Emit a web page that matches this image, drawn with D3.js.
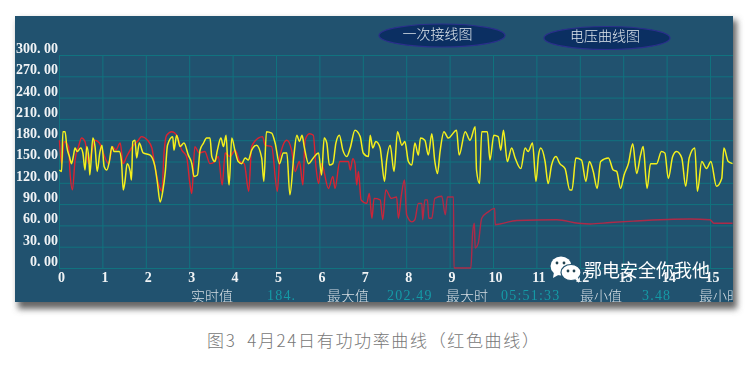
<!DOCTYPE html>
<html>
<head>
<meta charset="utf-8">
<script src="https://cdn.jsdelivr.net/npm/d3@7"></script>
<style>
html, body { margin: 0; padding: 0; background: #fff; overflow: hidden; }
svg { display: block; }
.soft { filter: blur(0.45px); }
</style>
</head>
<body>
<div id="container"></div>
<script>
// values
var valueTicks = [0, 30, 60, 90, 120, 150, 180, 210, 240, 270, 300];
var hourTicks = [0, 1, 2, 3, 4, 5, 6, 7, 8, 9, 10, 11, 12, 13, 14, 15];

var yellowHours = [
    0.01, 0.06, 0.09, 0.14, 0.18, 0.24, 0.29, 0.33, 0.37, 0.42, 0.50, 0.55, 0.60, 0.64, 0.69, 0.71, 0.78, 0.83, 0.88, 0.94,
    0.99, 1.04, 1.10, 1.16, 1.22, 1.27, 1.39, 1.44, 1.48, 1.52, 1.57, 1.64, 1.67, 1.70, 1.75, 1.79, 1.85, 1.94, 2.10, 2.21,
    2.27, 2.33, 2.39, 2.45, 2.50, 2.62, 2.65, 2.71, 2.79, 2.88, 2.98, 3.06, 3.11, 3.19, 3.25, 3.33, 3.40, 3.48, 3.52, 3.59,
    3.65, 3.73, 3.79, 3.85, 3.90, 3.92, 3.98, 4.06, 4.13, 4.21, 4.29, 4.36, 4.44, 4.55, 4.67, 4.72, 4.78, 4.90, 4.98, 5.08,
    5.17, 5.25, 5.32, 5.41, 5.48, 5.54, 5.60, 5.65, 5.75, 5.86, 5.98, 6.05, 6.11, 6.17, 6.23, 6.31, 6.38, 6.46, 6.54, 6.63,
    6.71, 6.82, 6.94, 7.01, 7.13, 7.17, 7.23, 7.30, 7.40, 7.43, 7.50, 7.55, 7.63, 7.72, 7.80, 7.90, 7.97, 8.05, 8.13, 8.20,
    8.28, 8.33, 8.43, 8.51, 8.59, 8.66, 8.72, 8.78, 8.87, 8.97, 9.16, 9.22, 9.36, 9.47, 9.59, 9.62, 9.69, 9.74, 9.87, 9.93,
    10.02, 10.12, 10.18, 10.24, 10.33, 10.43, 10.51, 10.64, 10.74, 10.81, 10.91, 10.99, 11.05, 11.10, 11.20, 11.27, 11.35, 11.45, 11.54, 11.66,
    11.77, 11.82, 11.91, 12.04, 12.14, 12.22, 12.31, 12.40, 12.48, 12.66, 12.77, 12.85, 12.94, 13.02, 13.12, 13.22, 13.31, 13.40, 13.46, 13.55,
    13.63, 13.77, 13.88, 13.96, 14.04, 14.14, 14.23, 14.35, 14.44, 14.52, 14.65, 14.71, 14.81, 14.92, 15.02, 15.15, 15.27, 15.32, 15.42, 15.52
];
var yellowValues = [
    138, 136, 192, 192, 171, 157, 147, 157, 169, 164, 169, 162, 138, 171, 152, 131, 183, 171, 136, 162,
    173, 143, 138, 150, 171, 164, 164, 150, 110, 122, 147, 136, 124, 178, 180, 155, 176, 162, 159, 143,
    119, 93, 108, 136, 173, 185, 166, 187, 171, 176, 159, 147, 129, 131, 166, 176, 183, 183, 157, 150,
    166, 183, 171, 187, 129, 117, 183, 164, 150, 147, 155, 152, 166, 173, 155, 122, 192, 190, 176, 147,
    162, 162, 103, 157, 187, 178, 187, 171, 147, 155, 162, 131, 183, 176, 145, 147, 176, 187, 166, 157,
    169, 194, 185, 162, 157, 187, 169, 178, 169, 155, 122, 152, 173, 136, 192, 173, 178, 150, 145, 176,
    159, 183, 180, 159, 189, 150, 133, 164, 192, 183, 194, 159, 192, 180, 199, 138, 119, 192, 192, 152,
    187, 185, 166, 194, 150, 169, 155, 140, 169, 164, 176, 122, 159, 169, 150, 119, 145, 157, 147, 140,
    110, 110, 155, 152, 122, 150, 136, 112, 150, 155, 138, 136, 112, 131, 147, 175, 133, 159, 171, 112,
    147, 147, 164, 162, 126, 157, 164, 155, 115, 155, 169, 108, 150, 140, 150, 115, 126, 169, 150, 147
];

var redHours = [
    0.01, 0.06, 0.12, 0.22, 0.25, 0.31, 0.37, 0.45, 0.52, 0.60, 0.68, 0.75, 0.83, 0.93, 1.02, 1.14, 1.24, 1.31, 1.41, 1.48,
    1.56, 1.67, 1.83, 1.90, 2.04, 2.14, 2.21, 2.31, 2.37, 2.42, 2.48, 2.60, 2.71, 2.83, 2.94, 3.02, 3.06, 3.13, 3.23, 3.36,
    3.48, 3.59, 3.67, 3.76, 3.83, 3.94, 4.06, 4.17, 4.27, 4.37, 4.44, 4.59, 4.69, 4.75, 4.90, 5.03, 5.09, 5.25, 5.36, 5.44,
    5.54, 5.62, 5.67, 5.77, 5.86, 5.92, 5.98, 6.05, 6.21, 6.31, 6.36, 6.47, 6.67, 6.71, 6.77, 6.82, 6.86, 6.90, 6.96, 7.09,
    7.15, 7.21, 7.26, 7.40, 7.46, 7.53, 7.66, 7.78, 7.82, 7.89, 7.96, 8.01, 8.13, 8.20, 8.28, 8.36, 8.38, 8.43, 8.49, 8.52,
    8.59, 8.66, 8.82, 8.90, 8.95, 9.09, 9.10, 9.49, 9.53, 9.57, 9.59, 9.66, 9.74, 9.89, 10.04, 10.05, 10.16, 10.55, 11.47, 11.97,
    12.24, 12.70, 13.23, 14.54, 15.00, 15.09, 15.52
];
var redValues = [
    180, 147, 178, 171, 138, 110, 152, 171, 183, 178, 147, 162, 180, 176, 162, 147, 171, 166, 176, 147,
    157, 169, 180, 185, 180, 169, 143, 115, 108, 162, 187, 192, 187, 166, 157, 117, 105, 171, 162, 164,
    147, 150, 157, 117, 162, 157, 166, 150, 147, 108, 171, 183, 185, 173, 171, 108, 157, 180, 166, 136,
    150, 117, 180, 189, 187, 143, 119, 147, 112, 129, 112, 150, 150, 138, 154, 147, 117, 136, 96, 91,
    105, 70, 98, 96, 68, 110, 98, 100, 70, 103, 124, 75, 65, 68, 91, 91, 68, 96, 96, 70,
    70, 98, 101, 75, 100, 100, 0, 0, 49, 63, 28, 35, 70, 79, 84, 61, 62, 67, 68, 63,
    62, 64, 66, 69, 68, 63, 63
];

var statusLabels = ["实时值", "最大值", "最大时", "最小值", "最小时"];
var statusValues = ["184.", "202.49", "05:51:33", "3.48"];
var buttonLabels = ["一次接线图", "电压曲线图"];
var captionText = "图3  4月24日有功功率曲线（红色曲线）";
var watermarkText = "鄂电安全你我他";

var serif = "'Liberation Serif', 'Noto Sans CJK SC', serif";
var cjk = "'Noto Sans CJK SC', sans-serif";

var svg = d3.select("#container").append("svg")
    .attr("width", 746)
    .attr("height", 370);

var x = d3.scaleLinear().domain([0, 15.53]).range([59, 733]);
var y = d3.scaleLinear().domain([0, 300]).range([268, 55]);

var defs = svg.append("defs");
defs.append("filter")
    .attr("id", "shadow")
    .attr("x", "-5%").attr("y", "-5%").attr("width", "110%").attr("height", "115%")
    .append("feGaussianBlur")
    .attr("stdDeviation", 3);
defs.append("clipPath")
    .attr("id", "panel-clip")
    .append("rect")
    .attr("x", 15).attr("y", 16).attr("width", 718).attr("height", 286);

// red is brighter where it is busy, duller on the flat part
var redGradient = defs.append("linearGradient")
    .attr("id", "red-fade")
    .attr("gradientUnits", "userSpaceOnUse")
    .attr("x1", x(6.5)).attr("x2", x(9))
    .attr("y1", 0).attr("y2", 0);
redGradient.append("stop").attr("offset", 0).attr("stop-color", "#dc2230");
redGradient.append("stop").attr("offset", 1).attr("stop-color", "#ad2a48");

// panel and its shadow
svg.append("rect")
    .attr("x", 18).attr("y", 20).attr("width", 719).attr("height", 289)
    .attr("fill", "#666666")
    .attr("filter", "url(#shadow)");
svg.append("rect")
    .attr("x", 15).attr("y", 16).attr("width", 718).attr("height", 286)
    .attr("fill", "#21526f");

var panel = svg.append("g")
    .attr("class", "soft")
    .attr("clip-path", "url(#panel-clip)");

var yAxis = panel.append("g")
    .attr("transform", "translate(59,0)")
    .call(d3.axisLeft(y)
	  .tickValues(valueTicks)
	  .tickSize(-674)
	  .tickPadding(1)
	  .tickFormat(function(d){
	      return d3.format(".2f")(d).replace(".", ". ");
	  }));

var xAxis = panel.append("g")
    .attr("transform", "translate(0,268)")
    .call(d3.axisBottom(x)
	  .tickValues(hourTicks)
	  .tickSize(-213)
	  .tickPadding(4)
	  .tickFormat(d3.format("d")));

panel.selectAll(".domain").remove();
panel.selectAll(".tick line")
    .attr("stroke", "#11737f")
    .attr("stroke-width", 1);

yAxis.selectAll("text")
    .attr("dy", "-0.18em")
    .attr("x", -1)
    .style("font-family", serif)
    .style("font-weight", "bold")
    .style("font-size", "14px")
    .attr("fill", "#f0f3f5");

xAxis.selectAll("text")
    .attr("dx", 2)
    .style("font-family", serif)
    .style("font-weight", "bold")
    .style("font-size", "14px")
    .attr("fill", "#f0f3f5");

function drawLine(hours, values, color, width){
    var line = d3.line()
	.curve(d3.curveMonotoneX)
	.x(function(d){ return x(d); })
	.y(function(d, i){ return y(values[i]); });
    panel.append("path")
	.attr("d", line(hours))
	.attr("fill", "none")
	.attr("stroke", color)
	.attr("stroke-width", width)
	.attr("stroke-linejoin", "round");
}

drawLine(redHours, redValues, "url(#red-fade)", 1.4);
drawLine(yellowHours, yellowValues, "#f4f01c", 1.5);

// the two buttons on top
var buttons = panel.selectAll(".button")
    .data(buttonLabels)
    .enter()
    .append("g")
    .classed("button", true);
buttons.append("ellipse")
    .attr("cx", function(d, i){ return [442, 607][i]; })
    .attr("cy", function(d, i){ return [35.5, 38][i]; })
    .attr("rx", 63)
    .attr("ry", 11.5)
    .attr("fill", "#0b2f62")
    .attr("stroke", "#2b2f8c")
    .attr("stroke-width", 1.2);
buttons.append("text")
    .attr("x", function(d, i){ return [437.5, 605][i]; })
    .attr("y", function(d, i){ return [39, 41][i]; })
    .attr("text-anchor", "middle")
    .style("font-family", cjk)
    .style("font-weight", 300)
    .style("font-size", "14px")
    .attr("fill", "#dfe6ec")
    .text(function(d){ return d; });

// status row at the bottom
panel.selectAll(".status-label")
    .data(statusLabels)
    .enter()
    .append("text")
    .classed("status-label", true)
    .attr("x", function(d, i){ return [191, 327, 446, 580, 699][i]; })
    .attr("y", 301)
    .style("font-family", cjk)
    .style("font-weight", 300)
    .style("font-size", "14px")
    .attr("fill", "#d5dde3")
    .text(function(d){ return d; });

panel.selectAll(".status-value")
    .data(statusValues)
    .enter()
    .append("text")
    .classed("status-value", true)
    .attr("x", function(d, i){ return [267, 387, 501, 642][i]; })
    .attr("y", 300)
    .style("font-family", serif)
    .style("font-size", "14px")
    .style("letter-spacing", "1.2px")
    .attr("fill", "#159aa6")
    .text(function(d){ return d; });

// watermark
var mark = panel.append("g");
mark.append("ellipse")
    .attr("cx", 561).attr("cy", 266).attr("rx", 10.5).attr("ry", 9.5)
    .attr("fill", "#fff");
mark.append("path")
    .attr("d", "M554,272 L553,278 L560,274 Z")
    .attr("fill", "#fff");
mark.append("ellipse")
    .attr("cx", 571).attr("cy", 272.5).attr("rx", 10).attr("ry", 8)
    .attr("fill", "#fff")
    .attr("stroke", "#21526f")
    .attr("stroke-width", 1.2);
mark.append("path")
    .attr("d", "M575,279 L579,283 L578,277 Z")
    .attr("fill", "#fff");
[[557, 263], [564, 263], [568, 271], [574, 271]].forEach(function(p){
    mark.append("circle")
	.attr("cx", p[0]).attr("cy", p[1]).attr("r", 1.4)
	.attr("fill", "#21424f");
});
mark.append("text")
    .attr("x", 584)
    .attr("y", 277)
    .style("font-family", cjk)
    .style("font-size", "18px")
    .attr("fill", "#ffffff")
    .text(watermarkText);

// caption under the panel
svg.append("text")
    .attr("x", 207)
    .attr("y", 347)
    .attr("xml:space", "preserve")
    .style("white-space", "pre")
    .style("font-family", cjk)
    .style("font-weight", 300)
    .style("font-size", "17px")
    .style("letter-spacing", "1.65px")
    .attr("fill", "#777777")
    .text(captionText);
</script>
</body>
</html>
